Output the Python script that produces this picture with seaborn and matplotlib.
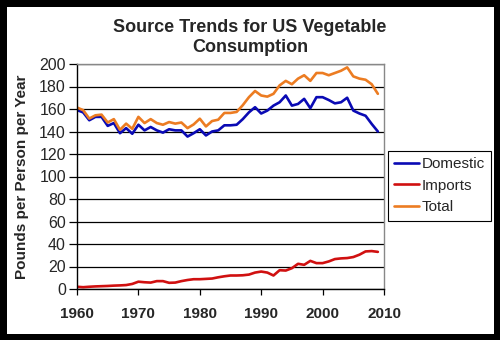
import matplotlib
matplotlib.use("Agg")
import matplotlib.pyplot as plt
import seaborn as sns
import pandas as pd

years = list(range(1960, 2010))
domestic = [159, 157, 150, 153, 153, 145, 147.5, 138.5, 143, 138,
            146, 141, 144, 141, 139, 142, 141, 141, 135.5, 138.5,
            142, 136.5, 140, 141, 145.5, 145.5, 146, 151, 157, 161.6,
            156, 158.6, 163, 166, 172, 163, 164.5, 169, 160.7, 170.5,
            170.5, 168, 165, 166, 170, 158.6, 156, 154, 146.7, 140]
imports = [2, 1.6, 2, 2.3, 2.5, 2.7, 3, 3.2, 3.5, 4.5,
           6.5, 6, 5.7, 7, 7, 5.5, 5.7, 7, 8, 8.7,
           8.7, 9, 9.3, 10.4, 11.3, 12, 12, 12.2, 12.8, 14.6,
           15.5, 14.6, 12, 16.7, 16.4, 18.5, 22.4, 21.5, 25, 23,
           23, 24.5, 26.6, 27.2, 27.5, 28.4, 30.5, 33.4, 33.7, 33]
total = [161.3, 159, 151.5, 154.4, 155, 148, 151, 141.5, 147, 142.4,
         153, 147.5, 151, 147.5, 146, 148.4, 147, 148, 143, 146.3,
         151.4, 144.5, 149.3, 150.5, 156.5, 156.5, 157.4, 163.4, 170.5, 176,
         172, 171, 173.5, 181, 185, 182, 187, 190, 185, 192,
         192, 190, 192, 194, 197, 189, 187, 186, 182, 173.5]
series_names = ["Domestic", "Imports", "Total"]
colors = ["#0a0ab4", "#d01010", "#ec7c22"]
y_ticks = list(range(0, 201, 20))
x_ticks = [1960, 1970, 1980, 1990, 2000, 2010]

df = pd.DataFrame({
    "Year": years * 3,
    "Value": domestic + imports + total,
    "Series": [series_names[0]] * len(years) + [series_names[1]] * len(years) + [series_names[2]] * len(years),
})

sns.set_style("white")
plt.rcParams["font.family"] = ["Liberation Sans", "DejaVu Sans"]

fig = plt.figure(figsize=(5, 3.4), dpi=100, edgecolor="black", linewidth=9)
ax = fig.add_axes([77 / 500, 1 - 289 / 340, (384 - 77) / 500, (289 - 64) / 340])

sns.lineplot(data=df, x="Year", y="Value", hue="Series", palette=colors,
             hue_order=series_names, linewidth=1.9, ax=ax, legend=False)

ax.set_xlim(1960, 2010)
ax.set_ylim(0, 200)
ax.set_xticks(x_ticks)
ax.set_yticks(y_ticks)
ax.yaxis.grid(True, color="black", linewidth=0.9)
ax.set_axisbelow(True)
ax.tick_params(axis="y", length=6, width=0.9, color="black", labelsize=11.5, pad=2, left=True)
ax.tick_params(axis="x", length=4, width=0.9, color="black", labelsize=11, pad=9, bottom=True)
for lab in ax.get_xticklabels():
    lab.set_fontweight("bold")
for s in ["left", "bottom"]:
    ax.spines[s].set_color("black")
    ax.spines[s].set_linewidth(1.0)
for s in ["right", "top"]:
    ax.spines[s].set_color("#888888")
    ax.spines[s].set_linewidth(1.0)
ax.set_xlabel("")
ax.set_ylabel("Pounds per Person per Year", fontsize=11, fontweight="bold", labelpad=7)

fig.text(0.5, 1 - 37.5 / 340, "Source Trends for US Vegetable\nConsumption", ha="center", va="center",
         fontsize=13, fontweight="bold", linespacing=1.2)

handles = [plt.Line2D([], [], color=c, linewidth=1.9) for c in colors]
leg = fig.legend(handles, series_names, loc="upper left", bbox_to_anchor=(388 / 500, 1 - 151 / 340),
                 bbox_transform=fig.transFigure, frameon=True, fancybox=False, edgecolor="black",
                 framealpha=1, fontsize=11, handlelength=1.6, handletextpad=0.2,
                 borderpad=0.4, labelspacing=0.5, borderaxespad=0)
leg.get_frame().set_linewidth(0.8)

fig.savefig("out.png", dpi=100, edgecolor=fig.get_edgecolor(), facecolor="white")
